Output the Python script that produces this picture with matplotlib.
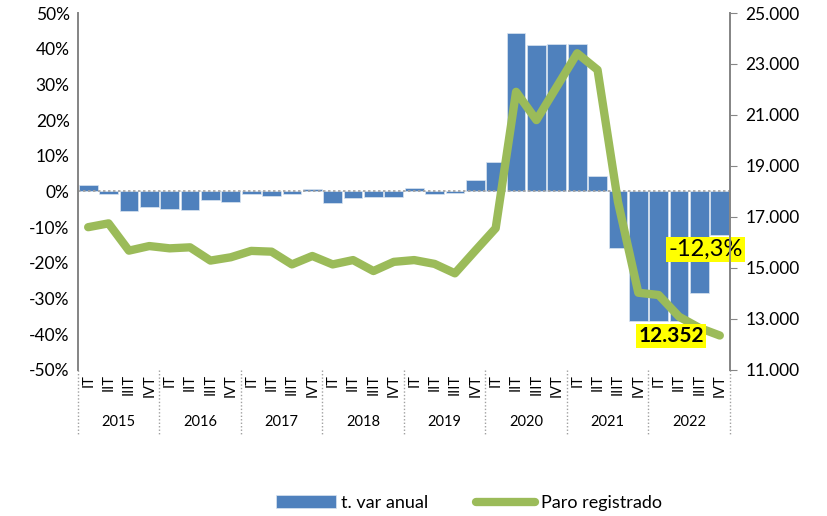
import matplotlib.pyplot as plt
import matplotlib.transforms as mtransforms
from matplotlib.ticker import FuncFormatter

plt.rcParams['font.family'] = ['Lato', 'DejaVu Sans']

years = ['2015', '2016', '2017', '2018', '2019', '2020', '2021', '2022']
quarters = ['IT', 'IIT', 'IIIT', 'IVT']

# tasa de variacion anual (%)
var_anual = [1.9, -0.7, -5.6, -4.4, -4.9, -5.1, -2.5, -3.0,
             -0.7, -1.4, -0.6, 0.6, -3.1, -1.7, -1.5, -1.6,
             1.0, -0.8, -0.5, 3.2, 8.4, 44.4, 41.1, 41.3,
             41.3, 4.2, -15.7, -36.2, -36.2, -36.2, -28.3, -12.3]

# paro registrado
paro = [16600, 16750, 15680, 15860, 15770, 15810, 15290, 15420,
        15670, 15640, 15140, 15470, 15140, 15310, 14880, 15240,
        15310, 15160, 14790, 15680, 16560, 21910, 20800, 22110,
        23420, 22770, 17600, 14030, 13940, 13090, 12650, 12352]

blue = '#4F81BD'
green = '#9BBB59'
grey = '#868686'

fig = plt.figure(figsize=(8.27, 5.16), dpi=100)
ax = fig.add_axes([0.0943, 0.283, 0.7884, 0.6918])
ax2 = ax.twinx()
ax.set_zorder(ax2.get_zorder() - 1)
ax2.patch.set_visible(False)

x = list(range(len(var_anual)))
ax.bar(x, var_anual, width=0.92, color=blue, edgecolor='#dbe5f1', linewidth=0.5, label='t. var anual')
ax.axhline(0, color='#a0a0a0', linestyle=(0, (1.5, 1.5)), linewidth=1.2)
ax.set_ylim(-50, 50)
ax.set_yticks(range(-50, 51, 10))
ax.yaxis.set_major_formatter(FuncFormatter(lambda v, p: f'{v:.0f}%'))
ax.set_xlim(-0.5, len(x) - 0.5)

line, = ax2.plot(x, paro, color=green, linewidth=6, solid_capstyle='round',
                 solid_joinstyle='round', label='Paro registrado')
ax2.set_ylim(11000, 25000)
ax2.set_yticks(range(11000, 25001, 2000))
ax2.yaxis.set_major_formatter(FuncFormatter(lambda v, p: f'{v:,.0f}'.replace(',', '.')))

for a in (ax, ax2):
    for s in ('top', 'bottom'):
        a.spines[s].set_visible(False)
    a.spines['left'].set_color(grey)
    a.spines['right'].set_color(grey)
    a.spines['left'].set_linewidth(1.3)
    a.spines['right'].set_linewidth(1.3)
ax.tick_params(axis='y', labelsize=12.5, length=0, pad=6)
ax2.tick_params(axis='y', labelsize=12.5, length=5, color=grey, direction='out', pad=6)

# two-level category axis
qlabels = [q for _ in years for q in quarters]
ax.set_xticks(x)
ax.set_xticklabels(qlabels, rotation=90, fontsize=10.5)
ax.tick_params(axis='x', length=0, pad=3)
trans = mtransforms.blended_transform_factory(ax.transData, ax.transAxes)
for i, yr in enumerate(years):
    ax.text(i * 4 + 1.5, -0.145, yr, transform=trans, ha='center', va='center', fontsize=10.5)
for k in range(len(years) + 1):
    ax.plot([k * 4 - 0.5, k * 4 - 0.5], [0, -0.182], transform=trans, color='#a0a0a0',
            linestyle=(0, (1, 1.5)), linewidth=1, clip_on=False)

# annotations
ax.text(30.3, -16.3, '-12,3%', fontsize=17, ha='center', va='center', clip_on=False,
        bbox=dict(facecolor='yellow', edgecolor='none', pad=1.5))
ax2.text(28.6, 12330, '12.352', fontsize=15, fontweight='bold', ha='center', va='center',
         bbox=dict(facecolor='yellow', edgecolor='none', pad=1.5))

h1, l1 = ax.get_legend_handles_labels()
fig.legend(h1 + [line], l1 + ['Paro registrado'], loc='center', bbox_to_anchor=(0.567, 0.025),
           ncol=2, frameon=False, fontsize=13, handlelength=3.3, columnspacing=2.6, handletextpad=0.3)

fig.savefig('out.png', dpi=100)
